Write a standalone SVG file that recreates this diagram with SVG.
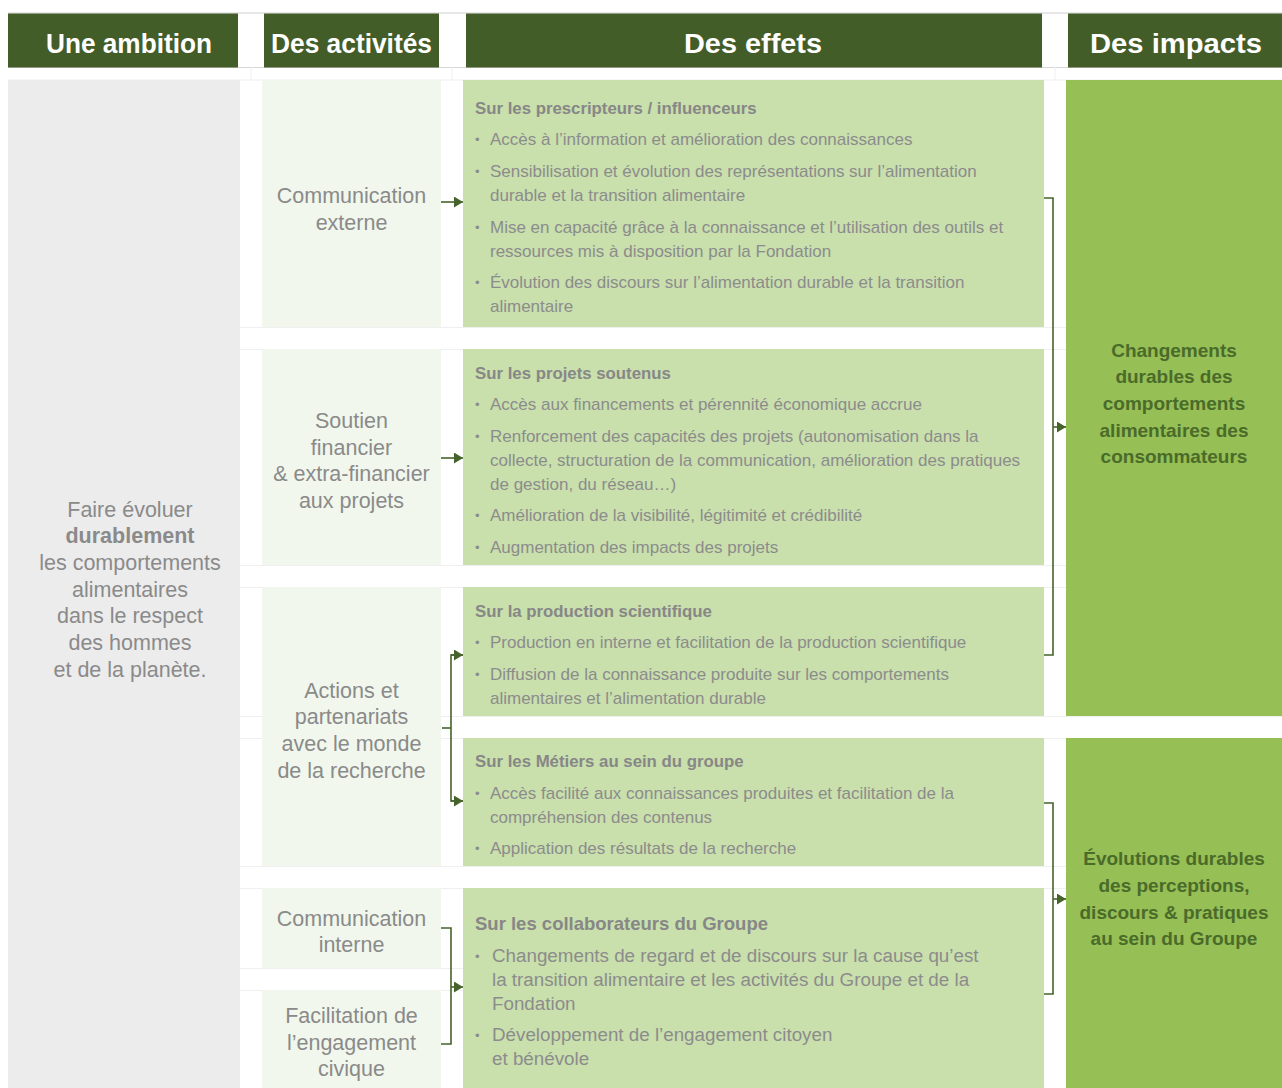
<svg xmlns="http://www.w3.org/2000/svg" width="1282" height="1088" viewBox="0 0 1282 1088">
<defs>
<style>
.hdr{fill:#435d29}
.hdt{font-family:"Liberation Sans",Arial,sans-serif;font-weight:bold;font-size:27px;fill:#ffffff;text-anchor:middle}
.amb{fill:#ececec}
.act{fill:#f1f7ec}
.eff{fill:#c9dfac}
.imp{fill:#96bf55}
.at{font-family:"Liberation Sans",Arial,sans-serif;font-size:21.5px;fill:#8a8a8a;text-anchor:middle}
.eh{font-family:"Liberation Sans",Arial,sans-serif;font-weight:bold;font-size:16.8px;fill:#878787}
.eb{font-family:"Liberation Sans",Arial,sans-serif;font-size:17px;fill:#8c8c8c}
.bu{font-family:"Liberation Sans",Arial,sans-serif;font-size:13px;fill:#8c8c8c}
.eh2{font-size:18.5px}
.eb2{font-size:18.8px}
.it{font-family:"Liberation Sans",Arial,sans-serif;font-weight:bold;font-size:19px;fill:#4a6b2a;text-anchor:middle}
.grid{stroke:#efefef;stroke-width:1;fill:none}
.con{stroke:#45632a;stroke-width:1.6;fill:none}
</style>
<marker id="ah" markerUnits="userSpaceOnUse" markerWidth="9" markerHeight="11" refX="9" refY="5.5" orient="auto">
<path d="M0,0 L9,5.5 L0,11 z" fill="#45632a"/>
</marker>
</defs>

<g id="grid">
<line class="grid" x1="8" y1="13" x2="1282" y2="13" style="stroke:#cfcfcf"/>
<line class="grid" x1="8" y1="67.5" x2="1282" y2="67.5" style="stroke:#d6d6d6"/>
<line class="grid" x1="8" y1="80" x2="1282" y2="80"/>
<line class="grid" x1="251" y1="67" x2="251" y2="80"/>
<line class="grid" x1="452" y1="67" x2="452" y2="80"/>
<line class="grid" x1="1055" y1="67" x2="1055" y2="80"/>
<line class="grid" x1="240" y1="327.5" x2="1282" y2="327.5"/>
<line class="grid" x1="240" y1="349.5" x2="1282" y2="349.5"/>
<line class="grid" x1="240" y1="565.5" x2="1282" y2="565.5"/>
<line class="grid" x1="240" y1="587.5" x2="1282" y2="587.5"/>
<line class="grid" x1="240" y1="716.5" x2="1282" y2="716.5"/>
<line class="grid" x1="240" y1="738.5" x2="1282" y2="738.5"/>
<line class="grid" x1="240" y1="866.5" x2="1282" y2="866.5"/>
<line class="grid" x1="240" y1="888.5" x2="1282" y2="888.5"/>
<line class="grid" x1="240" y1="968.5" x2="463" y2="968.5"/>
<line class="grid" x1="240" y1="990.5" x2="463" y2="990.5"/>
</g>

<g id="headers">
<rect class="hdr" x="8" y="13.5" width="230" height="54"/>
<text class="hdt" x="129" y="53" textLength="166" lengthAdjust="spacingAndGlyphs">Une ambition</text>
<rect class="hdr" x="264" y="13.5" width="175" height="54"/>
<text class="hdt" x="351.5" y="53" textLength="161" lengthAdjust="spacingAndGlyphs">Des activités</text>
<rect class="hdr" x="466" y="13.5" width="576" height="54"/>
<text class="hdt" x="753" y="53" textLength="138" lengthAdjust="spacingAndGlyphs">Des effets</text>
<rect class="hdr" x="1068" y="13.5" width="214" height="54"/>
<text class="hdt" x="1176" y="53" textLength="172" lengthAdjust="spacingAndGlyphs">Des impacts</text>
</g>

<g id="ambition">
<rect class="amb" x="8" y="80" width="232" height="1008"/>
<text class="at" x="130" y="517">Faire évoluer</text>
<text class="at" x="130" y="543" style="font-weight:bold">durablement</text>
<text class="at" x="130" y="570">les comportements</text>
<text class="at" x="130" y="597">alimentaires</text>
<text class="at" x="130" y="623">dans le respect</text>
<text class="at" x="130" y="650">des hommes</text>
<text class="at" x="130" y="677">et de la planète.</text>
</g>

<g id="act-communication-externe">
<rect class="act" x="262" y="80" width="179" height="247"/>
<text class="at" x="351.5" y="203">Communication</text>
<text class="at" x="351.5" y="230">externe</text>
</g>
<g id="act-soutien">
<rect class="act" x="262" y="349" width="179" height="216"/>
<text class="at" x="351.5" y="428">Soutien</text>
<text class="at" x="351.5" y="455">financier</text>
<text class="at" x="351.5" y="481">&amp; extra-financier</text>
<text class="at" x="351.5" y="508">aux projets</text>
</g>
<g id="act-recherche">
<rect class="act" x="262" y="587" width="179" height="279"/>
<text class="at" x="351.5" y="698">Actions et</text>
<text class="at" x="351.5" y="724">partenariats</text>
<text class="at" x="351.5" y="751">avec le monde</text>
<text class="at" x="351.5" y="778">de la recherche</text>
</g>
<g id="act-communication-interne">
<rect class="act" x="262" y="888" width="179" height="80"/>
<text class="at" x="351.5" y="926">Communication</text>
<text class="at" x="351.5" y="952">interne</text>
</g>
<g id="act-engagement">
<rect class="act" x="262" y="990" width="179" height="98"/>
<text class="at" x="351.5" y="1023">Facilitation de</text>
<text class="at" x="351.5" y="1050">l’engagement</text>
<text class="at" x="351.5" y="1076">civique</text>
</g>

<g id="eff-prescripteurs">
<rect class="eff" x="463" y="80" width="581" height="247"/>
<text class="eh" x="475" y="114">Sur les prescripteurs / influenceurs</text>
<text class="bu" x="475" y="144">•</text><text class="eb" x="490" y="145">Accès à l’information et amélioration des connaissances</text>
<text class="bu" x="475" y="176">•</text><text class="eb" x="490" y="177">Sensibilisation et évolution des représentations sur l’alimentation</text>
<text class="eb" x="490" y="201">durable et la transition alimentaire</text>
<text class="bu" x="475" y="232">•</text><text class="eb" x="490" y="233">Mise en capacité grâce à la connaissance et l’utilisation des outils et</text>
<text class="eb" x="490" y="257">ressources mis à disposition par la Fondation</text>
<text class="bu" x="475" y="287">•</text><text class="eb" x="490" y="288">Évolution des discours sur l’alimentation durable et la transition</text>
<text class="eb" x="490" y="312">alimentaire</text>
</g>
<g id="eff-projets">
<rect class="eff" x="463" y="349" width="581" height="216"/>
<text class="eh" x="475" y="379">Sur les projets soutenus</text>
<text class="bu" x="475" y="409">•</text><text class="eb" x="490" y="410">Accès aux financements et pérennité économique accrue</text>
<text class="bu" x="475" y="441">•</text><text class="eb" x="490" y="442">Renforcement des capacités des projets (autonomisation dans la</text>
<text class="eb" x="490" y="466">collecte, structuration de la communication, amélioration des pratiques</text>
<text class="eb" x="490" y="490">de gestion, du réseau…)</text>
<text class="bu" x="475" y="520">•</text><text class="eb" x="490" y="521">Amélioration de la visibilité, légitimité et crédibilité</text>
<text class="bu" x="475" y="552">•</text><text class="eb" x="490" y="553">Augmentation des impacts des projets</text>
</g>
<g id="eff-scientifique">
<rect class="eff" x="463" y="587" width="581" height="129"/>
<text class="eh" x="475" y="617">Sur la production scientifique</text>
<text class="bu" x="475" y="647">•</text><text class="eb" x="490" y="648">Production en interne et facilitation de la production scientifique</text>
<text class="bu" x="475" y="679">•</text><text class="eb" x="490" y="680">Diffusion de la connaissance produite sur les comportements</text>
<text class="eb" x="490" y="704">alimentaires et l’alimentation durable</text>
</g>
<g id="eff-metiers">
<rect class="eff" x="463" y="738" width="581" height="128"/>
<text class="eh" x="475" y="767">Sur les Métiers au sein du groupe</text>
<text class="bu" x="475" y="798">•</text><text class="eb" x="490" y="799">Accès facilité aux connaissances produites et facilitation de la</text>
<text class="eb" x="490" y="823">compréhension des contenus</text>
<text class="bu" x="475" y="853">•</text><text class="eb" x="490" y="854">Application des résultats de la recherche</text>
</g>
<g id="eff-collaborateurs">
<rect class="eff" x="463" y="888" width="581" height="200"/>
<text class="eh eh2" x="475" y="930">Sur les collaborateurs du Groupe</text>
<text class="bu" x="475" y="961">•</text><text class="eb eb2" x="492" y="962">Changements de regard et de discours sur la cause qu’est</text>
<text class="eb eb2" x="492" y="986">la transition alimentaire et les activités du Groupe et de la</text>
<text class="eb eb2" x="492" y="1010">Fondation</text>
<text class="bu" x="475" y="1040">•</text><text class="eb eb2" x="492" y="1041">Développement de l’engagement citoyen</text>
<text class="eb eb2" x="492" y="1065">et bénévole</text>
</g>

<g id="imp-consommateurs">
<rect class="imp" x="1066" y="80" width="216" height="636"/>
<text class="it" x="1174" y="357">Changements</text>
<text class="it" x="1174" y="383">durables des</text>
<text class="it" x="1174" y="410">comportements</text>
<text class="it" x="1174" y="437">alimentaires des</text>
<text class="it" x="1174" y="463">consommateurs</text>
</g>
<g id="imp-groupe">
<rect class="imp" x="1066" y="738" width="216" height="350"/>
<text class="it" x="1174" y="865">Évolutions durables</text>
<text class="it" x="1174" y="892">des perceptions,</text>
<text class="it" x="1174" y="919">discours &amp; pratiques</text>
<text class="it" x="1174" y="945">au sein du Groupe</text>
</g>

<g id="connectors">
<line class="con" x1="441" y1="202" x2="463" y2="202" marker-end="url(#ah)"/>
<line class="con" x1="441" y1="458" x2="463" y2="458" marker-end="url(#ah)"/>
<line class="con" x1="442" y1="728" x2="451" y2="728"/>
<polyline class="con" points="463,655 451,655 451,801 463,801"/>
<line class="con" x1="451" y1="655" x2="463" y2="655" marker-end="url(#ah)"/>
<line class="con" x1="451" y1="801" x2="463" y2="801" marker-end="url(#ah)"/>
<polyline class="con" points="441,928 451,928 451,1044 441,1044"/>
<line class="con" x1="451" y1="987" x2="463" y2="987" marker-end="url(#ah)"/>
<polyline class="con" points="1044,198 1053,198 1053,655 1044,655"/>
<line class="con" x1="1053" y1="427" x2="1066" y2="427" marker-end="url(#ah)"/>
<polyline class="con" points="1044,803 1053,803 1053,994 1044,994"/>
<line class="con" x1="1053" y1="899" x2="1066" y2="899" marker-end="url(#ah)"/>
</g>
</svg>
